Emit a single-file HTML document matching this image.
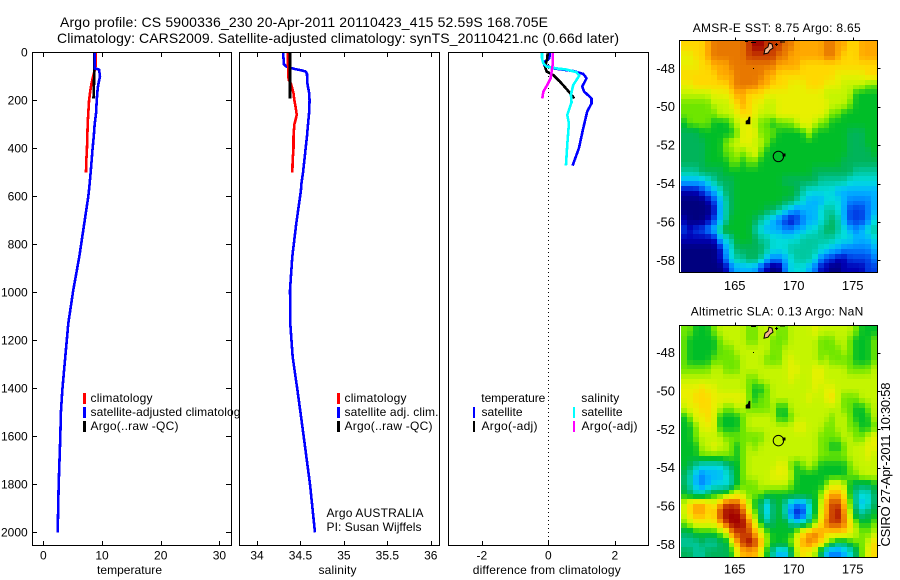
<!DOCTYPE html>
<html>
<head>
<meta charset="utf-8">
<title>Argo profile</title>
<style>
html,body{margin:0;padding:0;background:#fff;width:900px;height:580px;overflow:hidden}
svg{display:block}
text{font-family:"Liberation Sans",sans-serif;font-size:12px;fill:#000}
.t14{font-size:14px}
.m{font-size:13px}
.frame{fill:none;stroke:#000;stroke-width:1;shape-rendering:crispEdges}
.bg{fill:#fff;stroke:none}
.leg{shape-rendering:crispEdges}
</style>
</head>
<body>
<svg id="chart" xmlns="http://www.w3.org/2000/svg" width="900" height="580" viewBox="0 0 900 580">
<rect width="900" height="580" fill="#fff"/>
<text class="t14" x="60" y="27" textLength="488" lengthAdjust="spacing">Argo profile: CS 5900336_230 20-Apr-2011 20110423_415 52.59S 168.705E</text>
<text class="t14" x="57" y="43" textLength="562" lengthAdjust="spacing">Climatology: CARS2009. Satellite-adjusted climatology: synTS_20110421.nc (0.66d later)</text>

<g id="panel-temp">
<rect class="bg" x="32" y="52" width="200" height="494"/>
<g id="temp-ticks"></g>
<g id="temp-series"></g>
<rect class="frame" x="32.5" y="52.5" width="199" height="493"/>
<rect class="leg" x="83" y="393" width="3" height="11" fill="#f00"/>
<rect class="leg" x="83" y="407" width="3" height="11" fill="#00f"/>
<rect class="leg" x="83" y="421" width="3" height="11" fill="#000"/>
<text x="90.5" y="402" textLength="62" lengthAdjust="spacing">climatology</text>
<text x="90.5" y="416" textLength="156" lengthAdjust="spacing">satellite-adjusted climatology</text>
<text x="90.5" y="430" textLength="88" lengthAdjust="spacing">Argo(..raw -QC)</text>
<text x="97" y="574" textLength="65" lengthAdjust="spacing">temperature</text>
</g>

<g id="panel-sal">
<rect class="bg" x="239" y="52" width="201" height="494"/>
<g id="sal-ticks"></g>
<g id="sal-series"></g>
<rect class="frame" x="239.5" y="52.5" width="200" height="493"/>
<rect class="leg" x="337" y="393" width="3" height="11" fill="#f00"/>
<rect class="leg" x="337" y="407" width="3" height="11" fill="#00f"/>
<rect class="leg" x="337" y="421" width="3" height="11" fill="#000"/>
<text x="344.5" y="402" textLength="62" lengthAdjust="spacing">climatology</text>
<text x="344.5" y="416" textLength="94" lengthAdjust="spacing">satellite adj. clim.</text>
<text x="344.5" y="430" textLength="88" lengthAdjust="spacing">Argo(..raw -QC)</text>
<text x="326.5" y="517" textLength="97" lengthAdjust="spacing">Argo AUSTRALIA</text>
<text x="326.5" y="531" textLength="95" lengthAdjust="spacing">PI: Susan Wijffels</text>
<text x="318.5" y="574" textLength="38" lengthAdjust="spacing">salinity</text>
</g>

<g id="panel-diff">
<rect class="bg" x="448" y="52" width="201" height="494"/>
<g id="diff-ticks"></g>
<g id="diff-series"></g>
<rect class="frame" x="448.5" y="52.5" width="200" height="493"/>
<text x="481.3" y="402" textLength="64" lengthAdjust="spacing">temperature</text>
<text x="481.5" y="416" textLength="41" lengthAdjust="spacing">satellite</text>
<text x="481.5" y="430" textLength="56" lengthAdjust="spacing">Argo(-adj)</text>
<rect class="leg" x="473" y="407" width="2" height="11" fill="#00f"/>
<rect class="leg" x="473" y="421" width="2" height="11" fill="#000"/>
<text x="581.3" y="402" textLength="38" lengthAdjust="spacing">salinity</text>
<text x="581.5" y="416" textLength="41" lengthAdjust="spacing">satellite</text>
<text x="581.5" y="430" textLength="56" lengthAdjust="spacing">Argo(-adj)</text>
<rect class="leg" x="573" y="407" width="2" height="11" fill="#0ff"/>
<rect class="leg" x="573" y="421" width="2" height="11" fill="#f0f"/>
<text x="472.7" y="574" textLength="148" lengthAdjust="spacing">difference from climatology</text>
</g>

<g id="map-sst">
<text x="692.7" y="32" textLength="168" lengthAdjust="spacing">AMSR-E SST: 8.75 Argo: 8.65</text>
<g id="sst-cells"></g>
<g id="sst-over"></g>
<rect class="frame" x="679.5" y="40.5" width="198" height="232"/>
</g>

<g id="map-sla">
<text x="690.7" y="315.5" textLength="172.6" lengthAdjust="spacing">Altimetric SLA: 0.13 Argo: NaN</text>
<g id="sla-cells"></g>
<g id="sla-over"></g>
<rect class="frame" x="679.5" y="325.5" width="198" height="232"/>
</g>

<text transform="translate(890,546.5) rotate(-90)" textLength="164" lengthAdjust="spacing" style="font-size:13px">CSIRO 27-Apr-2011 10:30:58</text>
</svg>

<script>
const depthTicks = [0,200,400,600,800,1000,1200,1400,1600,1800,2000];
const tempTicks = [0,10,20,30];
const salTicks = [34,34.5,35,35.5,36];
const diffTicks = [-2,0,2];
const lonTicks = [165,170,175];
const latTicks = [-48,-50,-52,-54,-56,-58];

const tempClimDepth = [0,60,100,130,170,200,250,300,350,400,450,500];
const tempClimValues = [8.95,8.9,8.5,8.2,7.95,7.8,7.67,7.56,7.5,7.44,7.33,7.27];
const tempSatDepth = [0,67,72,100,130,150,200,250,300,350,400,500,574,600,713,852,990,1129,1268,1407,1500,1600,1800,2000];
const tempSatValues = [8.75,8.75,9.5,9.66,9.4,9.27,9.1,9.0,8.75,8.6,8.4,8.07,7.79,7.67,6.98,6.13,5.11,4.26,3.75,3.24,3.0,2.9,2.62,2.45];
const tempArgoDepth = [0,110,150,192];
const tempArgoValues = [8.65,8.65,8.62,8.55];

const salClimDepth = [0,50,100,115,130,170,200,230,260,280,300,350,400,450,500];
const salClimValues = [34.353,34.357,34.36,34.365,34.39,34.42,34.43,34.445,34.457,34.445,34.43,34.42,34.42,34.41,34.407];
const salSatDepth = [0,50,60,70,75,80,90,130,150,170,200,250,300,350,400,450,500,550,574,713,852,990,1129,1268,1407,1500,1600,1800,2000];
const salSatValues = [34.30,34.31,34.34,34.44,34.51,34.56,34.575,34.58,34.59,34.60,34.605,34.60,34.587,34.575,34.56,34.545,34.53,34.51,34.506,34.452,34.406,34.38,34.383,34.41,34.465,34.50,34.537,34.61,34.667];
const salArgoDepth = [0,192];
const salArgoValues = [34.38,34.38];

const diffTempSatDepth = [0,25,39,53,67,78,90,108,122,143,164,192,213,247,317,400,472];
const diffTempSatValues = [0.05,0.03,-0.1,-0.12,0.15,0.75,1.05,1.15,1.1,1.02,1.08,1.3,1.3,1.17,1.05,0.92,0.73];
const diffTempArgoDepth = [4,25,60,80,95,122,150,178,192];
const diffTempArgoValues = [-0.02,-0.03,-0.1,-0.05,0.15,0.35,0.53,0.7,0.78];
const diffSalSatDepth = [0,25,46,60,67,72,83,97,115,136,178,208,261,296,386,472];
const diffSalSatValues = [-0.19,-0.19,-0.15,-0.05,0.25,0.55,0.85,0.93,0.85,0.75,0.68,0.7,0.57,0.62,0.57,0.53];
const diffSalArgoDepth = [0,53,80,108,136,164,192];
const diffSalArgoValues = [0.13,0.13,0.1,0.07,-0.03,-0.15,-0.18];

const floatLon = [168.705];
const floatLat = [-52.59];

const sstLevels = [
[12,12,12,12,13,14,14,14,14,14,14,15,16,16,15,15,15,14,14,13,13,13,13,13,14,14,13,13,12,12,13,13,13],
[11,11,12,12,13,14,14,14,14,14,14,15,15,15,15,15,14,14,13,13,13,13,13,13,14,14,13,12,12,12,13,13,13],
[11,11,11,12,12,13,13,13,14,14,14,14,14,14,14,14,13,13,13,13,12,12,12,12,12,12,12,12,12,12,12,12,12],
[12,12,12,12,12,12,13,13,13,14,14,14,14,14,13,13,12,12,12,12,12,12,12,12,12,12,11,11,11,11,11,12,12],
[11,11,12,12,12,12,12,12,13,14,14,14,14,13,13,12,12,12,11,11,11,12,12,12,11,11,11,10,10,10,10,9,9],
[10,10,10,10,10,11,11,11,12,13,13,12,12,12,11,11,11,11,11,11,11,11,11,11,10,10,10,10,10,8,8,8,8],
[9,9,9,9,9,10,10,10,11,12,13,12,11,11,10,10,11,11,11,11,11,11,11,11,11,10,10,10,9,8,8,8,8],
[9,9,9,9,9,9,10,10,10,11,12,12,11,10,10,10,11,11,11,11,11,11,11,11,10,9,9,8,8,8,8,8,8],
[8,9,9,9,9,8,8,8,9,10,11,11,10,9,9,8,9,9,9,10,11,11,10,9,9,8,8,8,8,8,8,8,8],
[7,7,7,8,8,8,8,8,8,9,11,11,11,9,9,9,8,8,8,8,8,10,8,8,8,8,8,8,7,7,7,8,8],
[7,7,7,7,8,8,8,9,10,10,11,11,10,10,9,8,8,8,8,8,8,8,8,8,8,8,8,8,7,7,7,8,8],
[7,7,7,7,8,8,8,9,9,10,9,10,11,9,8,8,8,8,8,8,8,8,8,8,8,8,8,8,7,7,7,7,8],
[7,7,7,7,8,8,8,8,9,9,8,9,9,8,8,8,8,8,8,8,8,8,8,8,8,8,8,7,7,7,7,7,7],
[6,6,6,7,7,7,7,8,8,8,8,8,8,8,8,8,8,8,8,8,8,8,7,7,7,7,7,7,7,6,6,6,6],
[4,4,4,4,5,6,7,7,7,8,8,8,8,8,8,8,8,7,7,7,7,7,7,6,6,6,6,6,5,5,5,5,5],
[1,1,1,2,3,4,5,7,7,8,8,8,8,8,8,8,8,8,8,7,6,5,5,5,5,5,4,4,4,4,4,4,4],
[0,0,0,0,1,2,4,6,7,8,8,8,8,8,8,8,8,7,7,6,5,4,4,4,5,5,5,4,3,3,3,3,4],
[0,0,0,0,0,1,4,6,7,8,8,8,8,8,7,7,6,5,4,3,4,4,4,5,6,6,5,4,2,2,2,3,4],
[1,0,0,0,1,2,4,6,8,8,8,8,7,6,5,4,3,2,1,2,3,4,4,5,6,7,6,4,2,2,2,3,5],
[2,1,2,2,3,4,6,8,8,8,8,8,6,5,4,4,4,3,3,4,4,5,5,6,7,7,6,5,4,3,4,5,6],
[1,1,1,1,1,1,4,5,6,8,8,8,7,6,6,5,5,5,5,5,6,6,6,6,6,6,5,5,5,4,4,4,5],
[0,0,0,0,0,0,1,4,5,7,7,7,7,7,6,5,5,5,6,6,6,6,6,5,5,4,4,3,3,3,3,3,4],
[0,0,0,0,0,0,1,3,5,6,6,7,7,6,4,3,3,4,5,6,6,6,5,3,2,2,1,1,2,2,2,2,3],
[0,0,0,0,0,0,0,1,3,4,4,4,4,2,1,0,0,3,5,5,5,4,3,1,1,0,0,1,1,1,1,2,2]
];

const slaLevels = [
[9,9,8,8,8,9,10,10,10,10,10,9,9,10,10,10,9,9,10,10,10,10,11,10,10,10,10,10,10,9,8,8,8],
[9,8,8,8,8,8,9,10,10,10,10,9,9,10,10,9,9,9,10,10,10,10,10,9,9,9,10,10,9,8,8,8,9],
[9,8,8,8,8,8,9,9,9,10,10,10,10,10,10,9,9,10,10,10,10,10,10,9,9,9,9,10,9,8,8,8,9],
[9,8,8,8,8,9,9,9,9,9,10,10,10,10,9,9,9,10,11,10,10,10,10,9,10,9,9,9,9,8,8,8,9],
[9,9,9,9,9,10,10,9,9,9,10,10,10,10,10,10,10,10,11,11,10,10,11,11,10,10,10,10,9,9,9,9,10],
[10,10,10,10,10,10,10,10,10,10,10,9,9,10,10,10,10,10,11,10,10,10,11,11,10,10,10,10,10,10,10,10,10],
[11,11,11,12,11,11,10,10,10,10,10,9,8,8,9,10,10,10,10,10,10,10,11,10,11,11,10,10,10,10,10,10,10],
[11,11,12,12,12,11,11,11,11,11,11,9,8,9,9,10,10,10,10,10,10,11,10,10,11,12,10,9,9,9,10,10,10],
[10,11,11,12,12,11,10,9,9,10,10,9,9,9,9,10,8,8,10,10,10,10,10,10,10,10,10,9,9,8,8,9,10],
[8,9,11,11,12,11,8,8,8,8,9,10,10,10,10,10,8,8,9,10,10,10,10,10,10,9,10,10,9,8,8,8,10],
[8,8,9,11,11,11,8,8,8,8,9,10,10,10,10,10,10,10,10,11,11,10,10,10,9,9,10,10,9,9,8,8,9],
[8,8,9,10,10,10,10,9,9,9,9,9,9,9,10,10,10,10,10,10,10,10,10,9,9,9,9,10,10,9,9,10,11],
[8,8,8,10,10,11,10,10,9,8,9,10,9,10,10,10,10,10,10,10,10,10,10,9,9,8,8,9,10,10,10,11,11],
[8,8,8,9,9,9,9,9,9,8,9,10,10,10,10,10,10,10,10,10,10,10,10,9,9,9,9,9,10,10,10,11,10],
[8,7,6,5,5,5,5,6,7,8,9,10,10,10,10,10,11,11,9,8,9,10,9,8,8,8,8,8,9,10,10,10,10],
[7,6,4,3,4,4,4,5,6,8,9,10,10,10,10,11,11,11,10,8,8,8,8,8,8,8,8,8,9,9,10,10,10],
[7,6,4,3,4,5,5,5,6,8,9,9,9,10,10,10,10,10,9,8,8,8,8,8,9,11,11,10,8,7,7,7,8],
[8,7,6,6,7,8,8,9,10,11,10,9,9,9,8,8,8,8,8,8,8,8,8,9,12,13,13,12,8,6,5,5,7],
[10,12,13,13,12,11,13,15,15,15,13,10,8,7,4,7,8,6,4,3,3,5,8,10,13,15,15,13,9,6,4,5,7],
[10,12,13,13,12,12,15,16,16,16,15,12,9,7,4,7,8,6,3,1,2,5,8,11,13,15,16,14,10,7,6,7,8],
[9,10,11,11,11,11,13,15,16,16,16,14,11,8,6,7,8,8,6,5,6,7,9,12,14,15,15,14,12,9,8,8,9],
[7,7,8,8,8,8,9,10,14,15,15,15,13,11,9,8,8,8,8,10,12,13,14,13,12,12,12,12,11,10,9,9,10],
[6,6,6,7,6,6,7,7,10,13,15,16,15,13,9,8,8,8,9,11,13,14,13,12,10,8,7,7,8,9,9,10,12],
[7,7,6,6,7,7,7,7,8,11,13,13,13,11,8,6,4,4,7,10,12,11,10,7,4,3,3,4,5,7,9,11,12]
];

const levelColors = ['#00007f','#0000b4','#0040e6','#0080ff','#00b4ff','#00dcdc','#00c8a0','#00b45a','#00be28','#6ee600','#c4f500','#e8f000','#ffd800','#ffa800','#e87800','#c83c00','#a00000'];

const NS = 'http://www.w3.org/2000/svg';
const xTemp = v => 43.3 + 5.87 * v;
const xSal = v => 257 + 86.9 * (v - 34);
const xDiff = v => 548.3 + 33.25 * v;
const yDepth = d => 52.3 + 0.24 * d;
const xLon = v => 793.7 + 11.8 * (v - 170);
const yLatSst = v => 68.3 + 19.2 * (-48 - v);
const yLatSla = v => 352.5 + 19.2 * (-48 - v);

function make(tag, parent, attrs, content) {
  const el = document.createElementNS(NS, tag);
  for (const k in attrs) el.setAttribute(k, attrs[k]);
  if (content !== undefined) el.textContent = content;
  parent.appendChild(el);
  return el;
}
function tickLine(parent, x1, y1, x2, y2) {
  const el = make('line', parent, {x1:x1, y1:y1, x2:x2, y2:y2, stroke:'#000', 'stroke-width':1, 'shape-rendering':'crispEdges'});
  
  
}
function tickText(parent, x, y, anchor, str, cls) {
  const el = make('text', parent, {x:x, y:y, 'text-anchor':anchor, 'class':cls || ''}, str);
  
  
}
function xAxis(parent, ticks, scale) {
  ticks.forEach(v => {
    const x = Math.round(scale(v)) + 0.5;
    tickLine(parent, x, 52.5, x, 57);
    tickLine(parent, x, 545.5, x, 541);
    tickText(parent, scale(v), 559.5, 'middle', String(v));
  });
}
function profile(parent, depths, values, scale, color, name) {
  const pts = depths.map((d, i) => scale(values[i]).toFixed(2) + ',' + yDepth(d).toFixed(2)).join(' ');
  const el = make('polyline', parent, {points:pts, fill:'none', stroke:color, 'stroke-width':2.6, 'stroke-linejoin':'round', 'shape-rendering':'crispEdges'});
  
  
}

const tempTickG = document.getElementById('temp-ticks');
const salTickG = document.getElementById('sal-ticks');
const diffTickG = document.getElementById('diff-ticks');
xAxis(tempTickG, tempTicks, xTemp);
xAxis(salTickG, salTicks, xSal);
xAxis(diffTickG, diffTicks, xDiff);
depthTicks.forEach(d => {
  const y = Math.round(yDepth(d)) + 0.5;
  tickLine(tempTickG, 32.5, y, 37, y);
  tickLine(tempTickG, 231.5, y, 226, y);
  tickText(tempTickG, 27.7, yDepth(d) + 4, 'end', String(d));
});

const zeroLine = make('line', diffTickG, {x1:xDiff(0), y1:yDepth(-1), x2:xDiff(0), y2:545, stroke:'#000', 'stroke-width':1, 'stroke-dasharray':'1 3', 'shape-rendering':'crispEdges'});



const tempSeries = document.getElementById('temp-series');
profile(tempSeries, tempClimDepth, tempClimValues, xTemp, '#f00', 'temperature-climatology-line');
profile(tempSeries, tempArgoDepth, tempArgoValues, xTemp, '#000', 'temperature-argo-line');
profile(tempSeries, tempSatDepth, tempSatValues, xTemp, '#00f', 'temperature-satellite-line');

const salSeries = document.getElementById('sal-series');
profile(salSeries, salSatDepth, salSatValues, xSal, '#00f', 'salinity-satellite-line');
profile(salSeries, salClimDepth, salClimValues, xSal, '#f00', 'salinity-climatology-line');
profile(salSeries, salArgoDepth, salArgoValues, xSal, '#000', 'salinity-argo-line');

const diffSeries = document.getElementById('diff-series');
profile(diffSeries, diffTempSatDepth, diffTempSatValues, xDiff, '#00f', 'difference-temp-satellite-line');
profile(diffSeries, diffTempArgoDepth, diffTempArgoValues, xDiff, '#000', 'difference-temp-argo-line');
profile(diffSeries, diffSalSatDepth, diffSalSatValues, xDiff, '#0ff', 'difference-sal-satellite-line');
profile(diffSeries, diffSalArgoDepth, diffSalArgoValues, xDiff, '#f0f', 'difference-sal-argo-line');

function levelColor(v) {
  const top = levelColors.length - 1;
  const c = Math.max(0, Math.min(top, v));
  const i = Math.min(top - 1, Math.floor(c));
  const f = c - i;
  const a = levelColors[i], b = levelColors[i + 1];
  const ch = s => parseInt(a.substr(s, 2), 16) * (1 - f) + parseInt(b.substr(s, 2), 16) * f;
  return 'rgb(' + Math.round(ch(1)) + ',' + Math.round(ch(3)) + ',' + Math.round(ch(5)) + ')';
}
function sampleLevel(grid, r, c) {
  const row = grid[Math.max(0, Math.min(grid.length - 1, r))];
  const at = k => row[Math.max(0, Math.min(row.length - 1, k))];
  return 0.15 * at(c - 1) + 0.7 * at(c) + 0.15 * at(c + 1);
}
function heatmap(group, grid, top, bottom) {
  const left = 681, right = 877;
  const rows = grid.length, subRows = rows * 2;
  const cols = grid[0].length;
  for (let s = 0; s < subRows; s++) {
    const t = (s + 0.5) / 2 - 0.5;
    const r0 = Math.floor(t), f = t - r0;
    const y0 = Math.round(top + s * (bottom - top) / subRows);
    const y1 = Math.round(top + (s + 1) * (bottom - top) / subRows);
    for (let c = 0; c < cols; c++) {
      const x0 = Math.round(left + c * (right - left) / cols);
      const x1 = Math.round(left + (c + 1) * (right - left) / cols);
      const lvl = sampleLevel(grid, r0, c) * (1 - f) + sampleLevel(grid, r0 + 1, c) * f;
      const cell = make('rect', group, {x:x0, y:y0, width:x1 - x0, height:y1 - y0, fill:levelColor(lvl), 'shape-rendering':'crispEdges'});
      
      
    }
  }
}
heatmap(document.getElementById('sst-cells'), sstLevels, 41, 273);
heatmap(document.getElementById('sla-cells'), slaLevels, 326, 557);

function mapOverlay(group, yLat, top, right, bottomLabelY) {
  const dy = yLat(-48) - 68.3;
  const st = make('path', group, {d:'M764 54 L765 49 L768 47 L769 43 L772 44 L773 48 L770 50 L768 53 Z', transform:'translate(0,' + dy + ')', fill:'#f4b48c', stroke:'#000', 'stroke-width':1});
  
  
  const au = make('path', group, {d:'M746 124 L746 121 L748 120 L749 117 L750 117 L750 121 L750 124 Z', transform:'translate(0,' + dy + ')', fill:'#000', stroke:'#000', 'stroke-width':0.6});
  
  
  const dot = make('rect', group, {x:753, y:68 + dy, width:1, height:1, fill:'#000', 'shape-rendering':'crispEdges'});
  
  
  const cross = make('path', group, {d:'M775 44.5 H778 M776.5 43 V46', transform:'translate(0,' + dy + ')', stroke:'#000', 'stroke-width':1, fill:'none', 'shape-rendering':'crispEdges'});
  
  
  const coast = make('path', group, {d:'M745 41.5 H748 M751 42.5 H756 M780 42 H785', transform:'translate(0,' + dy + ')', stroke:'#000', 'stroke-width':1, fill:'none', 'shape-rendering':'crispEdges'});
  
  
  floatLon.forEach((lon, i) => {
    const ring = make('circle', group, {cx:xLon(lon), cy:yLat(floatLat[i]), r:5.2, fill:'none', stroke:'#000', 'stroke-width':1});
    
    
    const tail = make('rect', group, {x:xLon(lon) + 4, y:yLat(floatLat[i]) - 3, width:3, height:3, fill:'#000', 'shape-rendering':'crispEdges'});
    
    
  });
  lonTicks.forEach(v => {
    const x = Math.round(xLon(v)) + 0.5;
    tickLine(group, x, top, x, top - 3);
    tickText(group, xLon(v), bottomLabelY, 'middle', String(v), 'm');
  });
  latTicks.forEach(v => {
    const y = Math.round(yLat(v)) + 0.5;
    tickLine(group, right, y, right + 3, y);
    tickText(group, 675, yLat(v) + 4.5, 'end', String(v), 'm');
  });
}
mapOverlay(document.getElementById('sst-over'), yLatSst, 40.5, 877.5, 290);
mapOverlay(document.getElementById('sla-over'), yLatSla, 325.5, 877.5, 573.5);
</script>
</body>
</html>
